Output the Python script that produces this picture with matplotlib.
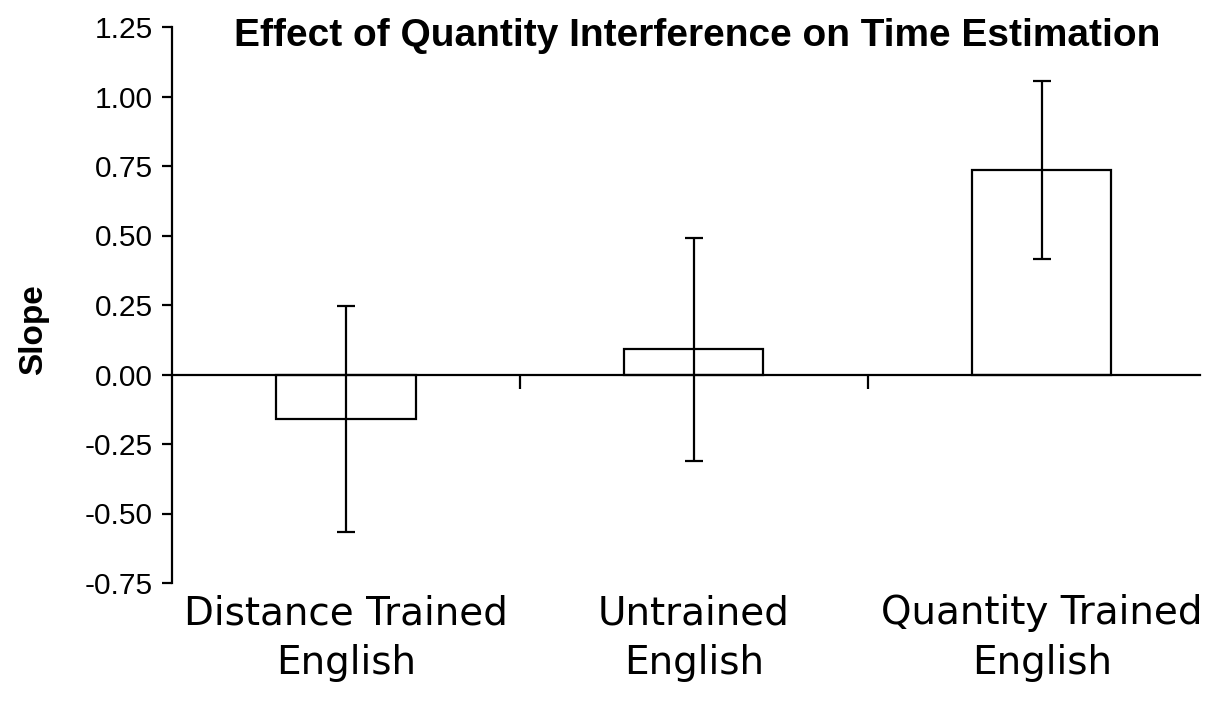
import numpy as np
import matplotlib
matplotlib.use("Agg")
import matplotlib.pyplot as plt

##### Data #####
categories = ["Distance Trained\nEnglish", "Untrained\nEnglish", "Quantity Trained\nEnglish"]
slopes = [-0.16, 0.09, 0.735]
errors = [0.405, 0.40, 0.32]
yticks = [-0.75, -0.50, -0.25, 0.00, 0.25, 0.50, 0.75, 1.00, 1.25]

W, H = 1205, 709
fig = plt.figure(figsize=(W / 100, H / 100), dpi=100)
ax = fig.add_axes([172 / W, (H - 583) / H, 1028 / W, 556 / H])

x = np.arange(len(categories))
ax.bar(x, slopes, width=0.4, color="white", edgecolor="black", linewidth=1.6, zorder=2)
ax.errorbar(x, slopes, yerr=errors, fmt="none", ecolor="black", elinewidth=1.6,
            capsize=6.5, capthick=1.6, zorder=3)

ax.set_xlim(-0.5, 2.455)
ax.set_ylim(-0.75, 1.25)

##### Axes styling #####
for s in ["top", "right"]:
    ax.spines[s].set_visible(False)
ax.spines["bottom"].set_position(("data", 0))
ax.spines["left"].set_linewidth(1.6)
ax.spines["bottom"].set_linewidth(1.6)

ax.set_yticks(yticks)
ax.set_yticklabels(["%.2f" % v for v in yticks], fontfamily="Liberation Sans", fontsize=21.5)
ax.tick_params(axis="y", direction="out", length=7, width=1.6, pad=7)

ax.set_xticks([0.5, 1.5])
ax.set_xticklabels([])
ax.tick_params(axis="x", direction="out", length=10, width=1.6)

for i, lab in enumerate(categories):
    ax.text(i, -0.02, lab, transform=ax.get_xaxis_transform(), ha="center", va="top",
            fontfamily="DejaVu Sans", fontsize=28, linespacing=1.4)

fig.text(34 / W, 1 - 330 / H, "Slope", rotation=90, ha="center", va="center",
         fontfamily="Liberation Sans", fontweight="bold", fontsize=24)
fig.text(697 / W, 1 - 36 / H, "Effect of Quantity Interference on Time Estimation",
         ha="center", va="center", fontfamily="Liberation Sans", fontweight="bold", fontsize=28)

fig.savefig("out.png", dpi=100)
